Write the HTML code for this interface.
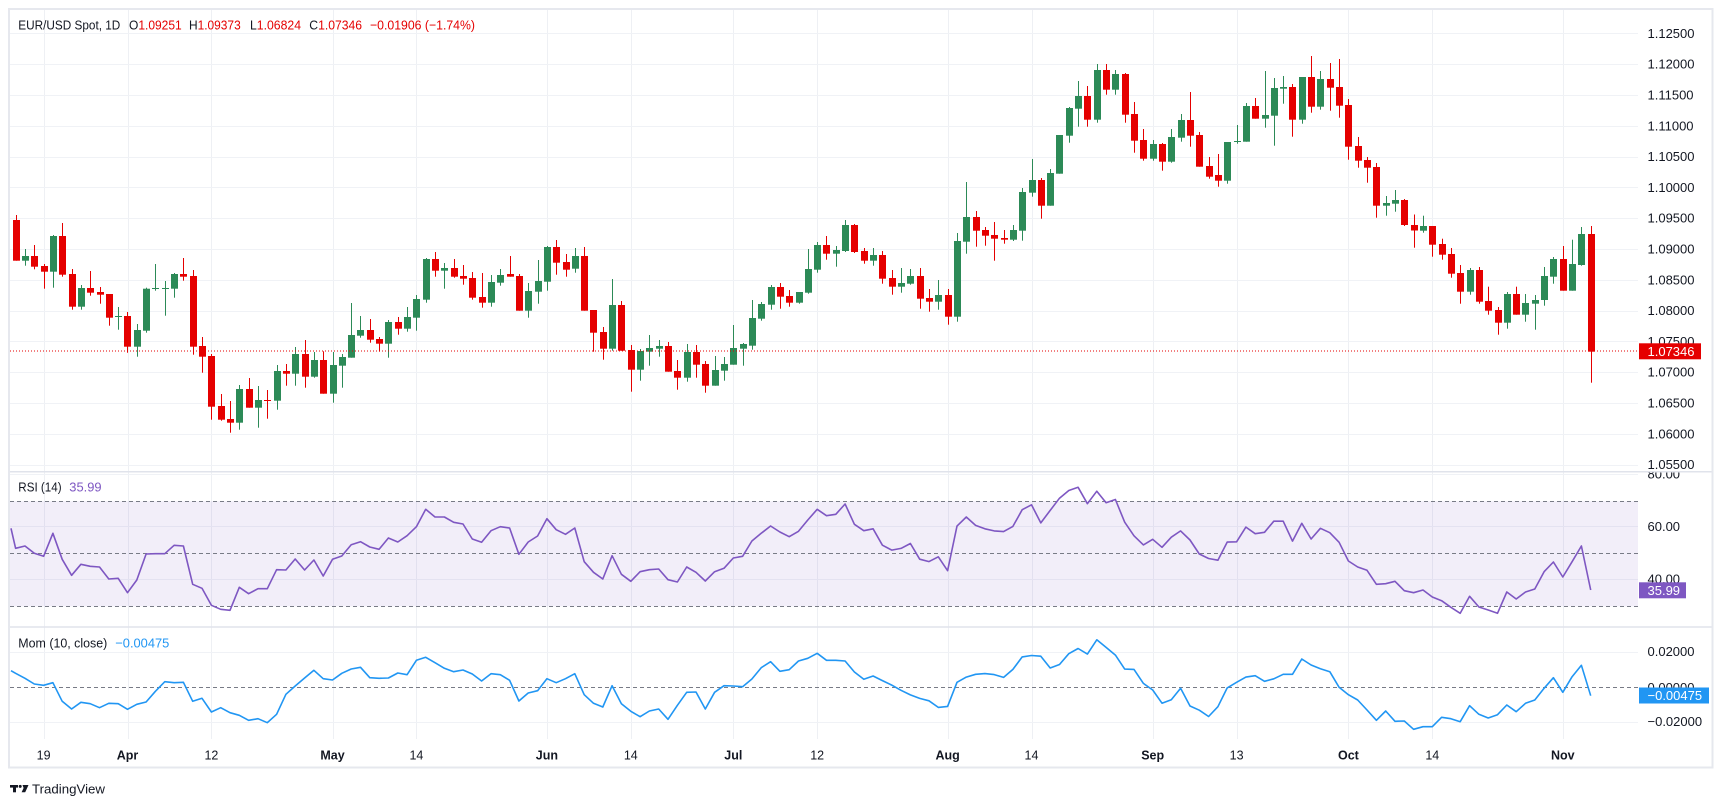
<!DOCTYPE html>
<html><head><meta charset="utf-8"><style>
html,body{margin:0;padding:0;background:#fff;}
svg{display:block;font-family:"Liberation Sans",Arial,sans-serif;}
</style></head><body>
<svg id="s" width="1723" height="803" viewBox="0 0 1723 803" xmlns="http://www.w3.org/2000/svg">
<defs>
<clipPath id="cp"><rect x="10" y="10" width="1628" height="461.5"/></clipPath>
<clipPath id="cr"><rect x="10" y="472.5" width="1628" height="154"/></clipPath>
<clipPath id="cm"><rect x="10" y="627.5" width="1628" height="111.5"/></clipPath>
<clipPath id="cra"><rect x="1639" y="472.5" width="80" height="154"/></clipPath>
</defs>
<rect x="0" y="0" width="1723" height="803" fill="#fff"/>
<g id="grid"></g>
<rect x="10" y="501.3" width="1628" height="105" fill="rgba(126,87,194,0.1)"/>
<g stroke="#787b86" stroke-width="1" stroke-dasharray="4 3" fill="none">
<line x1="10" y1="501.5" x2="1638" y2="501.5"/>
<line x1="10" y1="553.5" x2="1638" y2="553.5"/>
<line x1="10" y1="606.5" x2="1638" y2="606.5"/>
<line x1="10" y1="687.5" x2="1638" y2="687.5"/>
</g>
<g id="candles" clip-path="url(#cp)"></g>
<line x1="10" y1="351" x2="1638" y2="351" stroke="#e50000" stroke-width="1" stroke-dasharray="1 2"/>
<g clip-path="url(#cr)"><polyline id="rsi" fill="none" stroke="#7e57c2" stroke-width="1.6" stroke-linejoin="round"/></g>
<g clip-path="url(#cm)"><polyline id="mom" fill="none" stroke="#2196f3" stroke-width="1.6" stroke-linejoin="round"/></g>
<line x1="10" y1="471.8" x2="1712" y2="471.8" stroke="#e0e3eb" stroke-width="1.5"/>
<line x1="10" y1="627" x2="1712" y2="627" stroke="#e0e3eb" stroke-width="1.5"/>
<rect x="9" y="9" width="1703.5" height="758.5" fill="none" stroke="#e6e8ee" stroke-width="2"/>
<g id="paxis" font-size="13" fill="#131722"></g>
<g font-size="13" fill="#131722" clip-path="url(#cra)">
<text x="1647.5" y="478.7">80.00</text>
<text x="1647.5" y="531.2">60.00</text>
<text x="1647.5" y="583.7">40.00</text>
</g>
<g font-size="13" fill="#131722">
<text x="1647.5" y="656">0.02000</text>
<text x="1647.5" y="691.8">0.00000</text>
<text x="1647.5" y="726">−0.02000</text>
</g>
<rect x="1639" y="343.3" width="62" height="16" fill="#e50000"/>
<text x="1647.5" y="355.8" font-size="13" fill="#fff">1.07346</text>
<rect x="1639" y="582.3" width="47" height="16" fill="#7e57c2"/>
<text x="1647.5" y="594.8" font-size="13" fill="#fff">35.99</text>
<rect x="1639" y="687.5" width="70" height="16" fill="#2196f3"/>
<text x="1647.5" y="700" font-size="13" fill="#fff">−0.00475</text>
<g font-size="13">
<text x="18.3" y="29.5" fill="#131722" textLength="102" lengthAdjust="spacingAndGlyphs">EUR/USD Spot, 1D</text>
<text x="129" y="29.5" textLength="52.7" lengthAdjust="spacingAndGlyphs"><tspan fill="#131722">O</tspan><tspan fill="#e50000">1.09251</tspan></text>
<text x="189" y="29.5" textLength="51.7" lengthAdjust="spacingAndGlyphs"><tspan fill="#131722">H</tspan><tspan fill="#e50000">1.09373</tspan></text>
<text x="250" y="29.5" textLength="51" lengthAdjust="spacingAndGlyphs"><tspan fill="#131722">L</tspan><tspan fill="#e50000">1.06824</tspan></text>
<text x="309.3" y="29.5" textLength="52.7" lengthAdjust="spacingAndGlyphs"><tspan fill="#131722">C</tspan><tspan fill="#e50000">1.07346</tspan></text>
<text x="370" y="29.5" fill="#e50000" textLength="105" lengthAdjust="spacingAndGlyphs">−0.01906 (−1.74%)</text>
<text x="18.3" y="491.6" fill="#131722" textLength="43.3" lengthAdjust="spacingAndGlyphs">RSI (14)</text>
<text x="69.3" y="491.6" fill="#7e57c2" textLength="32.3" lengthAdjust="spacingAndGlyphs">35.99</text>
<text x="18.3" y="647.6" fill="#131722" textLength="89" lengthAdjust="spacingAndGlyphs">Mom (10, close)</text>
<text x="115.3" y="647.6" fill="#2196f3" textLength="54" lengthAdjust="spacingAndGlyphs">−0.00475</text>
</g>
<g font-size="12.5" fill="#131722" text-anchor="middle">
<text x="43.6" y="759.5">19</text>
<text x="127.5" y="759.5" font-weight="bold">Apr</text>
<text x="211.4" y="759.5">12</text>
<text x="332.5" y="759.5" font-weight="bold">May</text>
<text x="416.4" y="759.5">14</text>
<text x="546.9" y="759.5" font-weight="bold">Jun</text>
<text x="630.8" y="759.5">14</text>
<text x="733.3" y="759.5" font-weight="bold">Jul</text>
<text x="817.2" y="759.5">12</text>
<text x="947.6" y="759.5" font-weight="bold">Aug</text>
<text x="1031.5" y="759.5">14</text>
<text x="1152.7" y="759.5" font-weight="bold">Sep</text>
<text x="1236.6" y="759.5">13</text>
<text x="1348.4" y="759.5" font-weight="bold">Oct</text>
<text x="1432.3" y="759.5">14</text>
<text x="1562.8" y="759.5" font-weight="bold">Nov</text>
</g>
<g fill="#131722" transform="translate(0,-5)">
<rect x="10" y="790" width="8" height="2.6"/>
<rect x="13" y="790" width="3" height="7.3"/>
<circle cx="20.2" cy="791.4" r="1.5"/>
<polygon points="22.5,790 28.5,790 25.2,797.3 21.6,797.3 23.6,793"/>
<text x="32" y="798.5" font-size="13" textLength="73" lengthAdjust="spacingAndGlyphs">TradingView</text>
</g>
</svg>
<script>
(function(){
var NS="http://www.w3.org/2000/svg";
function el(t,a,p){var e=document.createElementNS(NS,t);for(var k in a)e.setAttribute(k,a[k]);p.appendChild(e);return e;}
var X0=43.6,DX=9.32;function X(i){return X0+i*DX;}
var g=document.getElementById('grid');
var vx=[43.6,127.5,211.4,332.5,416.4,546.9,630.8,733.3,817.2,947.6,1031.5,1152.7,1236.6,1348.4,1432.3,1562.8];
vx.forEach(function(x){var xx=Math.round(x)+0.5;el('line',{x1:xx,y1:10,x2:xx,y2:739,stroke:'#eef0f4','stroke-width':1},g);});
var pa=document.getElementById('paxis');
var labs=['1.12500','1.12000','1.11500','1.11000','1.10500','1.10000','1.09500','1.09000','1.08500','1.08000','1.07500','1.07000','1.06500','1.06000','1.05500'];
for(var k=0;k<15;k++){var y=33.3+k*30.8;var yy=Math.round(y)+0.5;
el('line',{x1:10,y1:yy,x2:1638,y2:yy,stroke:'#f0f2f6','stroke-width':1},g);
var t=el('text',{x:1647.5,y:(y+4.6).toFixed(1)},pa);t.textContent=labs[k];}
[474.5,526.5,579.5,652.5,722.5].forEach(function(y){el('line',{x1:10,y1:y,x2:1638,y2:y,stroke:'#f0f2f6','stroke-width':1},g);});
var C=[
[0,220.0,260.7,215.0,260.7],[1,256.0,260.7,249.0,265.7],[0,256.0,266.7,245.0,269.3],[0,266.0,271.7,264.0,288.7],
[1,236.0,271.7,235.0,287.7],[0,236.0,274.7,223.0,276.7],[0,274.0,306.7,269.0,309.7],[1,288.0,306.7,285.0,309.7],
[0,288.0,292.7,271.0,295.7],[0,292.0,294.7,287.0,303.7],[0,294.0,317.7,294.0,325.7],[1,316.0,316.7,307.0,329.7],
[0,316.0,346.7,312.0,352.7],[1,330.0,346.7,324.0,356.7],[1,288.7,330.7,287.7,332.7],[1,288.0,289.0,264.0,290.7],
[1,288.0,289.0,281.0,315.7],[1,274.0,288.7,273.0,297.7],[0,274.0,276.7,258.0,280.7],[0,276.0,346.7,270.0,354.7],
[0,346.0,356.7,337.0,372.7],[0,356.0,406.7,354.0,419.7],[0,406.0,419.7,394.0,420.7],[0,419.0,422.7,401.0,432.7],
[1,389.0,422.7,385.0,429.7],[0,389.0,407.7,378.0,407.7],[1,400.0,407.7,386.0,427.7],[0,400.0,401.0,390.0,418.7],
[1,371.0,400.7,365.0,409.7],[0,371.0,373.7,364.0,385.7],[1,354.0,373.7,347.0,385.7],[0,354.0,376.7,340.0,387.7],
[1,360.0,376.7,352.0,377.7],[0,360.0,393.7,351.3,393.7],[1,365.0,393.7,352.0,402.7],[1,357.0,365.7,354.0,387.7],
[1,335.0,357.7,303.0,357.7],[1,330.0,335.7,316.0,337.7],[0,330.0,339.7,319.0,342.7],[0,339.0,343.7,337.0,351.7],
[1,322.0,343.7,320.0,357.7],[0,322.0,328.7,317.0,334.7],[1,317.0,328.7,307.0,331.7],[1,299.0,317.7,295.0,330.7],
[1,259.0,299.7,258.0,302.7],
[0,259.0,270.7,252.0,276.7],[1,268.0,270.7,263.0,288.7],[0,268.0,276.7,259.0,277.7],[0,276.0,278.7,265.0,284.7],
[0,278.0,297.7,272.0,299.7],[0,297.0,302.7,273.0,307.7],[1,282.0,302.7,275.0,306.7],[1,275.0,282.7,269.0,285.7],
[0,274.0,276.7,256.0,276.7],[0,276.0,310.7,274.0,310.7],[1,291.0,310.7,283.0,317.7],[1,281.0,291.7,260.0,303.7],
[1,247.0,281.7,246.0,290.7],[0,247.0,262.7,240.0,274.7],[0,262.0,269.7,254.0,276.7],[1,256.0,268.7,248.0,272.7],
[0,256.0,310.7,247.0,310.7],[0,310.0,332.7,310.0,351.7],[0,332.0,348.7,327.0,359.7],[1,305.0,348.7,279.0,350.7],
[0,305.0,350.7,301.0,350.7],[0,350.0,369.7,345.0,391.7],[1,351.0,369.7,349.0,380.7],[1,348.0,351.7,335.0,365.7],
[1,346.0,348.7,340.0,356.7],[0,346.0,371.7,342.0,371.7],[0,371.0,377.7,360.0,389.7],[1,352.0,377.7,344.0,381.7],
[0,352.0,364.7,345.0,377.7],[0,364.0,385.7,361.0,392.7],[1,370.0,385.7,356.0,385.7],[1,364.0,370.7,357.0,380.7],
[1,348.0,364.7,325.0,364.7],[1,344.0,348.7,343.0,365.7],[1,318.0,345.7,300.0,349.7],[1,304.0,318.7,302.0,320.7],
[1,287.0,304.7,285.0,309.7],[0,287.0,296.7,283.0,308.7],[0,296.0,302.7,290.0,306.7],[1,292.0,302.7,292.0,303.7],
[1,269.0,292.7,249.0,293.7],[1,245.0,269.7,242.0,272.7],[0,245.0,253.7,236.0,259.7],[1,250.0,253.7,246.0,266.7],
[1,225.0,251.0,220.0,252.0],[0,225.0,252.0,224.0,253.0],[0,251.0,260.7,248.0,263.7],[1,255.0,260.7,248.0,265.7],
[0,255.0,278.7,251.0,283.7],[0,278.0,286.7,270.0,294.7],[1,283.0,286.7,268.0,292.7],[1,276.0,283.7,269.0,284.7],
[0,276.0,298.7,268.0,308.7],[0,298.0,301.7,289.0,311.7],[1,295.0,301.7,280.0,309.7],[0,295.0,316.7,289.0,324.7],
[1,241.0,316.7,233.0,321.7],[1,217.0,241.7,182.0,253.7],[0,217.0,230.7,211.0,246.7],[0,230.0,235.7,227.0,245.7],
[0,235.0,238.7,222.0,260.7],[0,238.0,239.7,230.0,243.7],[1,230.0,239.7,225.0,241.0],[1,192.0,230.7,188.0,240.7],
[1,180.0,192.7,159.0,196.7],[0,180.0,205.7,178.0,218.7],[1,173.0,205.7,169.0,205.7],[1,135.0,173.7,135.0,173.7],
[1,108.0,135.7,107.0,142.7],[1,96.0,108.7,81.0,126.7],[0,96.0,119.7,86.0,126.7],[1,70.0,119.7,64.0,122.7],
[0,70.0,89.7,64.0,94.7],[1,74.0,89.7,70.0,94.7],[0,74.0,114.7,73.0,122.7],[0,114.0,140.7,102.0,152.7],
[0,140.0,158.7,129.0,160.7],[1,144.0,158.7,140.0,160.7],[0,144.0,161.7,143.0,170.7],[1,137.0,161.7,129.0,162.7],
[1,120.0,137.7,114.0,141.7],[0,120.0,135.7,92.0,146.7],[0,135.0,166.7,132.0,166.7],[0,166.0,176.7,157.0,178.7],
[0,175.0,180.7,154.0,186.7],[1,142.0,180.7,142.0,183.7],[1,141.0,141.7,125.0,143.7],[1,106.0,141.7,103.0,141.7],
[0,106.0,118.7,98.0,118.7],[1,115.0,118.7,71.0,127.7],[1,88.0,115.7,78.0,145.7],[1,87.0,88.7,76.0,103.7],
[0,87.0,119.7,84.0,136.7],[1,77.0,119.7,77.0,123.7],[0,77.0,106.7,56.0,112.7],[1,79.0,106.7,71.0,109.7],
[0,79.0,87.7,63.0,110.7],[0,87.0,105.7,59.0,117.7],[0,105.0,146.7,99.0,159.7],[0,146.0,160.7,137.0,167.7],
[0,160.0,167.7,157.0,182.7],[0,167.0,205.7,163.0,217.7],[1,203.0,205.7,196.0,215.7],[1,200.0,203.7,190.0,211.7],
[0,200.0,225.0,199.0,226.0],[0,225.0,230.5,214.5,247.7],[1,226.0,230.7,215.7,232.7],[0,226.0,244.7,226.0,256.7],
[0,244.0,254.7,238.7,259.7],[0,254.0,273.7,248.0,277.7],[0,273.0,291.7,265.0,303.7],[1,270.0,291.7,268.0,294.7],
[0,270.0,301.7,267.0,303.7],[0,301.0,310.7,286.7,314.7],[0,310.0,322.7,307.0,334.7],[1,294.0,322.7,292.0,328.7],
[0,294.0,314.7,286.7,314.7],[1,303.0,314.7,294.0,321.7],[1,300.0,303.7,295.0,329.7],[1,276.0,300.0,267.0,305.7],
[1,259.0,276.7,257.0,283.7],[0,259.0,290.7,246.0,290.7],[1,264.0,290.7,239.7,290.7],[1,234.0,265.0,227.0,265.7],
[0,234.0,351.7,226.0,382.7]
];
var cg=document.getElementById('candles');
for(var j=0;j<C.length;j++){var i=j-3,c=C[j];var cx=Math.round(X(i));var col=c[0]?'#2c8a57':'#e50000';
el('rect',{x:cx,y:c[3],width:1,height:Math.max(1,c[4]-c[3]),fill:col},cg);
el('rect',{x:cx-3,y:c[1],width:7,height:Math.max(1,c[2]-c[1]),fill:col},cg);}
var R=[548.3,546.0,553.3,556.3,533.3,559.3,575.3,564.3,566.3,567.0,579.0,578.3,592.7,580.0,554.0,553.7,553.7,545.3,546.0,584.3,588.3,605.3,609.3,610.3,587.3,593.7,588.7,588.7,569.7,570.0,559.0,570.0,560.0,576.0,559.3,556.0,544.7,541.7,547.0,549.3,538.0,542.0,535.7,526.7,509.3,517.0,
517.0,522.3,524.0,539.0,542.3,530.7,526.7,528.0,554.3,542.0,536.0,518.7,529.7,534.3,528.0,561.7,572.3,579.0,555.7,574.3,581.3,571.7,569.7,569.0,579.7,582.0,567.0,572.3,581.0,571.7,568.3,558.0,556.3,541.0,533.3,526.0,532.0,536.7,531.3,520.0,509.3,515.7,514.3,504.0,524.3,530.7,
528.8,545.2,550.1,548.4,543.5,559.2,561.6,556.8,570.7,526.1,517.0,525.4,528.8,530.9,531.6,526.4,509.7,504.8,522.9,510.4,498.2,490.5,487.3,503.7,491.2,502.7,499.5,522.2,535.8,544.9,539.3,547.3,537.2,530.9,540.0,554.0,558.5,560.2,542.1,541.8,527.1,533.7,532.3,521.2,521.2,541.1,
523.3,539.0,528.3,532.7,542.3,561.0,567.0,570.3,584.3,583.7,581.3,590.7,592.7,590.0,597.0,600.7,607.3,613.3,596.3,607.0,610.0,613.3,592.0,599.0,592.0,589.0,571.7,562.0,577.0,561.7,546.0,590.0];
var M=[673.3,678.3,684.0,685.3,682.7,701.3,709.0,702.3,703.7,707.7,703.3,703.7,709.3,704.3,702.0,691.3,681.7,682.7,682.3,701.3,698.3,712.0,707.7,712.7,715.3,720.3,718.7,722.7,714.3,694.3,686.0,678.0,670.3,678.7,680.0,673.3,669.0,667.3,677.7,678.3,678.0,673.0,674.7,660.3,657.3,662.7,
668.3,671.7,670.0,674.0,681.0,673.7,674.7,680.3,701.0,693.0,690.7,678.7,682.7,678.7,673.7,694.7,703.3,707.0,685.7,703.7,711.3,716.7,711.0,709.0,719.3,705.3,692.3,692.0,709.0,692.3,685.7,686.0,686.7,679.0,667.7,661.7,671.3,669.7,661.0,658.3,653.3,660.3,660.3,661.0,672.0,679.3,
676.0,680.6,685.1,690.3,694.9,698.4,700.8,707.4,706.4,682.3,677.1,674.3,673.6,674.6,677.4,669.4,656.9,655.5,656.2,668.0,664.5,653.7,648.5,654.1,639.8,647.4,655.1,669.1,669.4,683.4,690.0,703.2,699.8,688.3,706.0,710.2,716.5,706.7,687.9,682.3,677.1,675.7,681.3,678.8,674.3,674.3,
659.0,665.0,668.7,671.7,687.3,694.7,700.0,710.0,720.3,711.0,721.3,721.0,729.3,726.7,726.7,717.3,718.7,721.7,705.7,714.3,718.0,714.7,705.0,711.7,703.3,700.0,688.3,677.7,692.3,676.7,665.3,695.7];
function pts(arr,start){var s=['11,'+start];for(var j=0;j<arr.length;j++){s.push(X(j-3).toFixed(1)+','+arr[j]);}return s.join(' ');}
document.getElementById('rsi').setAttribute('points',pts(R,528.3));
document.getElementById('mom').setAttribute('points',pts(M,670.7));
})();
</script>
</body></html>
